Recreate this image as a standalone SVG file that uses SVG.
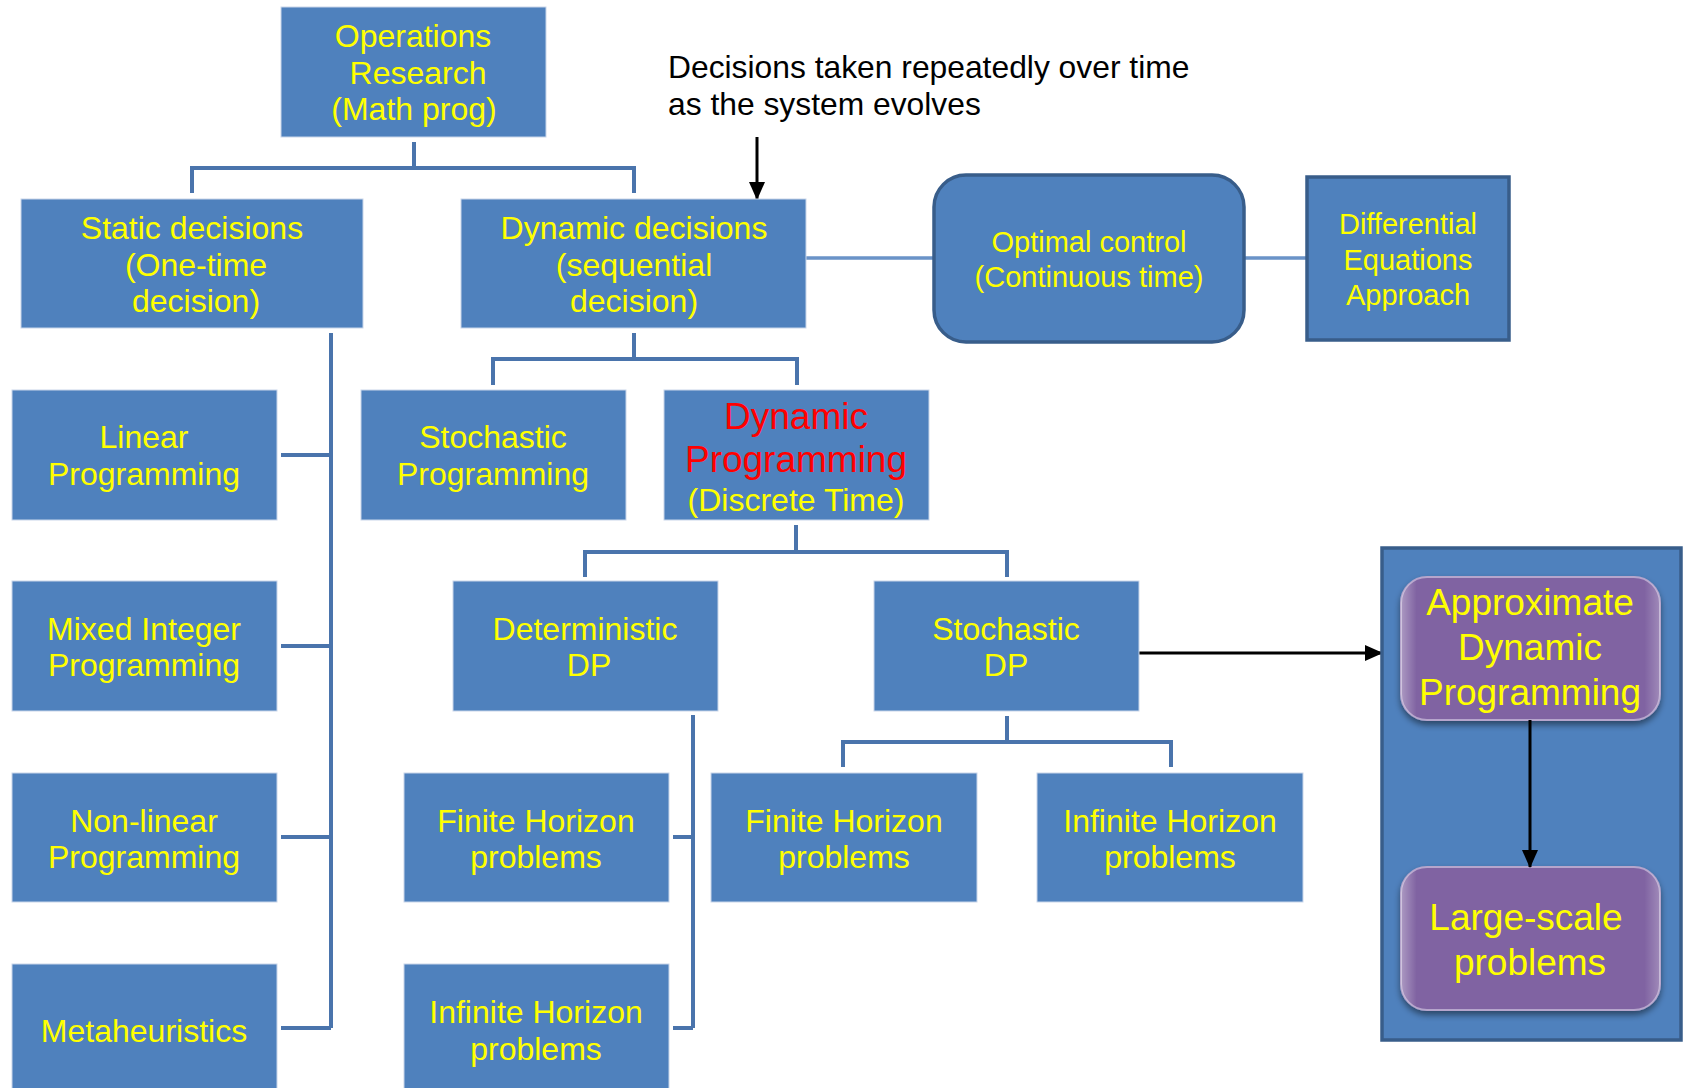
<svg xmlns="http://www.w3.org/2000/svg" width="1683" height="1088" viewBox="0 0 1683 1088">
<defs>
<style>
.box{fill:#4f81bd;stroke:#c9d6ea;stroke-width:1}
.dk{fill:#4f81bd;stroke:#385d8a;stroke-width:3.5}
.pur{fill:#8064a2;stroke:#b6a5cc;stroke-width:2}
text{font-family:"Liberation Sans",Arial,sans-serif;text-anchor:middle;fill:#ffff00}
.t32{font-size:32px}
.t29{font-size:29px}
.t37{font-size:37px}
.red{fill:#ff0000}
.note{font-size:31.8px;fill:#000;text-anchor:start}
.con{fill:none;stroke:#4a74ac;stroke-width:4}
.arr{fill:none;stroke:#000;stroke-width:3}
</style>
<marker id="ah" markerUnits="userSpaceOnUse" markerWidth="18" markerHeight="16" refX="17" refY="8" orient="auto">
<path d="M0,0 L18,8 L0,16 Z" fill="#000"/>
</marker>
<filter id="sh" x="-10%" y="-10%" width="130%" height="130%">
<feDropShadow dx="0" dy="4" stdDeviation="3" flood-color="#000" flood-opacity="0.45"/>
</filter>
<filter id="blur" x="-5%" y="-200%" width="110%" height="500%">
<feGaussianBlur stdDeviation="1"/>
</filter>
<linearGradient id="hl" x1="0" y1="0" x2="1" y2="0">
<stop offset="0" stop-color="#ffffff" stop-opacity="0.35"/>
<stop offset="0.06" stop-color="#ffffff" stop-opacity="0"/>
<stop offset="0.94" stop-color="#ffffff" stop-opacity="0"/>
<stop offset="1" stop-color="#ffffff" stop-opacity="0.25"/>
</linearGradient>
</defs>
<rect width="1683" height="1088" fill="#fff"/>

<g id="connectors">
<path class="con" d="M414,142 V168 M192,193 V168 H634 V193"/>
<path class="con" d="M331,333 V1028 M281,455 H331 M281,646 H331 M281,837 H331 M281,1028 H331"/>
<path class="con" d="M634,333 V359 M493,385 V359 H797 V385"/>
<path class="con" d="M796,525 V552 M585,577 V552 H1007 V577"/>
<path class="con" d="M693,715 V1028 M673,837 H693 M673,1028 H693"/>
<path class="con" d="M1007,716 V742 M843,767 V742 H1171 V767"/>
<g filter="url(#blur)">
<path d="M806,263.5 H934 M1244,263.5 H1307" stroke="#8c8c8c" stroke-width="6" fill="none"/>
</g>
<path d="M806,258 H934 M1244,258 H1307" stroke="#6a93c8" stroke-width="3.5" fill="none"/>
<path class="arr" d="M757,137 V199" marker-end="url(#ah)"/>
<path class="arr" d="M1137,653 H1382" marker-end="url(#ah)"/>
</g>

<g id="n-or"><rect class="box" x="281" y="7" width="265" height="130"/>
<text class="t32"><tspan x="413" y="47">Operations</tspan><tspan x="418" y="84">Research</tspan><tspan x="414" y="120">(Math prog)</tspan></text></g>

<g id="n-note"><text class="note"><tspan x="668" y="78">Decisions taken repeatedly over time</tspan><tspan x="668" y="115">as the system evolves</tspan></text></g>

<g id="n-static"><rect class="box" x="21" y="199" width="342" height="129"/>
<text class="t32"><tspan x="192" y="239">Static decisions</tspan><tspan x="196" y="276">(One-time</tspan><tspan x="196" y="312">decision)</tspan></text></g>

<g id="n-dynamic"><rect class="box" x="461" y="199" width="345" height="129"/>
<text class="t32"><tspan x="634" y="239">Dynamic decisions</tspan><tspan x="634" y="276">(sequential</tspan><tspan x="634" y="312">decision)</tspan></text></g>

<g id="n-optctrl"><rect class="dk" x="934" y="175" width="310" height="167" rx="32"/>
<text class="t29"><tspan x="1089" y="252">Optimal control</tspan><tspan x="1089" y="287">(Continuous time)</tspan></text></g>

<g id="n-diffeq"><rect class="dk" x="1307" y="177" width="202" height="163"/>
<text class="t29"><tspan x="1408" y="234">Differential</tspan><tspan x="1408" y="270">Equations</tspan><tspan x="1408" y="305">Approach</tspan></text></g>

<g id="n-linear"><rect class="box" x="12" y="390" width="265" height="130"/>
<text class="t32"><tspan x="144" y="448">Linear</tspan><tspan x="144" y="485">Programming</tspan></text></g>

<g id="n-stochprog"><rect class="box" x="361" y="390" width="265" height="130"/>
<text class="t32"><tspan x="493" y="448">Stochastic</tspan><tspan x="493" y="485">Programming</tspan></text></g>

<g id="n-dp"><rect class="box" x="664" y="390" width="265" height="130"/>
<text><tspan class="t37 red" x="796" y="429">Dynamic</tspan><tspan class="t37 red" x="796" y="472">Programming</tspan><tspan class="t32" x="796" y="511">(Discrete Time)</tspan></text></g>

<g id="n-mip"><rect class="box" x="12" y="581" width="265" height="130"/>
<text class="t32"><tspan x="144" y="640">Mixed Integer</tspan><tspan x="144" y="676">Programming</tspan></text></g>

<g id="n-detdp"><rect class="box" x="453" y="581" width="265" height="130"/>
<text class="t32"><tspan x="585" y="640">Deterministic</tspan><tspan x="589" y="676">DP</tspan></text></g>

<g id="n-stochdp"><rect class="box" x="874" y="581" width="265" height="130"/>
<text class="t32"><tspan x="1006" y="640">Stochastic</tspan><tspan x="1006" y="676">DP</tspan></text></g>

<g id="n-nonlinear"><rect class="box" x="12" y="773" width="265" height="129"/>
<text class="t32"><tspan x="144" y="832">Non-linear</tspan><tspan x="144" y="868">Programming</tspan></text></g>

<g id="n-finite-det"><rect class="box" x="404" y="773" width="265" height="129"/>
<text class="t32"><tspan x="536" y="832">Finite Horizon</tspan><tspan x="536" y="868">problems</tspan></text></g>

<g id="n-finite-sto"><rect class="box" x="711" y="773" width="266" height="129"/>
<text class="t32"><tspan x="844" y="832">Finite Horizon</tspan><tspan x="844" y="868">problems</tspan></text></g>

<g id="n-infinite-sto"><rect class="box" x="1037" y="773" width="266" height="129"/>
<text class="t32"><tspan x="1170" y="832">Infinite Horizon</tspan><tspan x="1170" y="868">problems</tspan></text></g>

<g id="n-meta"><rect class="box" x="12" y="964" width="265" height="130"/>
<text class="t32"><tspan x="144" y="1042">Metaheuristics</tspan></text></g>

<g id="n-infinite-det"><rect class="box" x="404" y="964" width="265" height="130"/>
<text class="t32"><tspan x="536" y="1023">Infinite Horizon</tspan><tspan x="536" y="1060">problems</tspan></text></g>

<g id="n-panel"><rect class="dk" x="1382" y="548" width="299" height="492"/></g>

<g id="n-adp"><rect class="pur" x="1401" y="577" width="259" height="143" rx="26" filter="url(#sh)"/>
<rect x="1401" y="577" width="259" height="143" rx="26" fill="url(#hl)"/>
<text class="t37"><tspan x="1530" y="615">Approximate</tspan><tspan x="1530" y="660">Dynamic</tspan><tspan x="1530" y="705">Programming</tspan></text></g>

<g id="n-large"><rect class="pur" x="1401" y="867" width="259" height="143" rx="26" filter="url(#sh)"/>
<rect x="1401" y="867" width="259" height="143" rx="26" fill="url(#hl)"/>
<text class="t37"><tspan x="1526" y="930">Large-scale</tspan><tspan x="1530" y="975">problems</tspan></text></g>

<g id="connectors-panel">
<path class="arr" d="M1530,720 V867" marker-end="url(#ah)"/>
</g>
</svg>
